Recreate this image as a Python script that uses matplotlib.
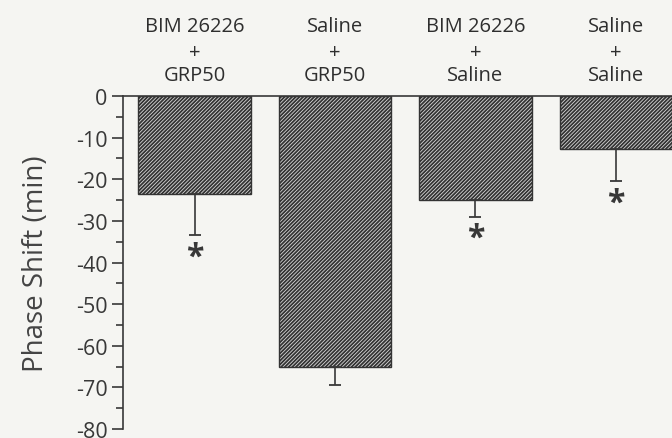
import matplotlib
matplotlib.use('Agg')
import matplotlib.pyplot as plt
import numpy as np

# data
groups = ['BIM 26226\n+\nGRP50', 'Saline\n+\nGRP50', 'BIM 26226\n+\nSaline', 'Saline\n+\nSaline']
shift = [-23.5, -65.0, -25.0, -12.7]
sem = [10.0, 4.5, 4.0, 7.8]
signif = [True, False, True, True]

plt.rcParams['font.family'] = ['Open Sans', 'DejaVu Sans']
plt.rcParams['axes.unicode_minus'] = False
plt.rcParams['hatch.linewidth'] = 1.3

ink = '#383838'
bg = '#f5f5f2'

fig = plt.figure(figsize=(6.72, 4.39), dpi=100, facecolor=bg)
ax = fig.add_axes([0.183, 0.0205, 0.817, 0.7585])
ax.set_facecolor(bg)

x = np.arange(1, len(groups) + 1)
ax.bar(x, shift, width=0.8, color='#dcdcdc', edgecolor='#333333', hatch='/////////',
       linewidth=1.0, zorder=2)

# one-sided (downward) error bars
ax.errorbar(x, shift, yerr=[sem, [0] * len(sem)], fmt='none', ecolor=ink,
            elinewidth=1.2, capsize=4.5, capthick=1.3, zorder=3)

for xi, yi, ei, s in zip(x, shift, sem, signif):
    if s:
        ax.text(xi, yi - ei - 1.2, '*', ha='center', va='top', fontsize=23,
                color=ink, fontweight='bold')

# group labels above the zero line, one line at a time
line_y = [16.9, 10.6, 5.0]
for xi, g in zip(x, groups):
    for ly, part in zip(line_y, g.split('\n')):
        ax.text(xi, ly, part, ha='center', va='center', fontsize=14.5, color='#2e2e2e',
                clip_on=False)

ax.set_xlim(0.49, 4.40)
ax.set_ylim(-80, 0)
ax.set_yticks(np.arange(-80, 1, 10))
ax.set_yticks(np.arange(-75, 0, 10), minor=True)
ax.tick_params(axis='y', which='major', length=8, width=1.2, colors=ink, labelsize=15.5, pad=3)
ax.tick_params(axis='y', which='minor', length=5, width=1.2, colors=ink)
ax.set_xticks([])

ax.spines['bottom'].set_visible(False)
ax.spines['right'].set_visible(False)
ax.spines['top'].set_color(ink)
ax.spines['left'].set_color(ink)
ax.spines['top'].set_linewidth(1.2)
ax.spines['left'].set_linewidth(1.2)

ax.set_ylabel('Phase Shift (min)', fontsize=20, color='#444444', labelpad=19)

fig.savefig('out.png', dpi=100, facecolor=bg)
